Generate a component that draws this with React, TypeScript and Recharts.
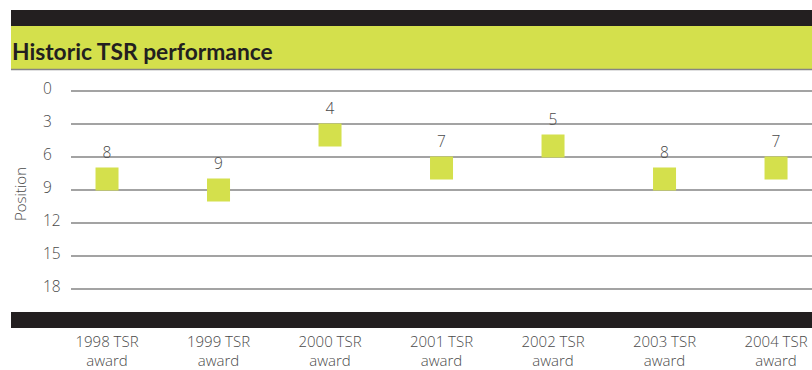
import React from 'react';
import { LineChart, Line, XAxis, YAxis, CartesianGrid, LabelList } from 'recharts';

const categories = [
  '1998 TSR award',
  '1999 TSR award',
  '2000 TSR award',
  '2001 TSR award',
  '2002 TSR award',
  '2003 TSR award',
  '2004 TSR award',
];
const positions = [8, 9, 4, 7, 5, 8, 7];
const yTicks = [0, 3, 6, 9, 12, 15, 18];
const xTicks = categories.map((_, i) => i);

const data = categories.map((name, i) => ({ idx: i, name, position: positions[i] }));

const LIME = '#d4e04c';
const DARK = '#231f20';
const GRID = '#858585';
const TEXT = '#4a4a4a';
const FONT = '"Open Sans", sans-serif';

const Square = (props: any) => {
  const { cx, cy, index } = props;
  if (cx == null || cy == null) return null;
  return <rect key={index} x={cx - 11.5} y={cy - 11.5} width={23} height={23} fill={LIME} />;
};

const YTick = (props: any) => {
  const { y, payload } = props;
  return (
    <text x={43} y={y + 2.5} fill={TEXT} fontSize={15.5} fontWeight={300} fontFamily={FONT}>
      {payload.value}
    </text>
  );
};

const XTick = (props: any) => {
  const { x, payload } = props;
  const label = categories[payload.value] || '';
  const cut = label.lastIndexOf(' ');
  return (
    <g>
      <text x={x} y={347} textAnchor="middle" fill={TEXT} fontSize={15} fontWeight={300} fontFamily={FONT}>
        {label.slice(0, cut)}
      </text>
      <text x={x} y={366} textAnchor="middle" fill={TEXT} fontSize={15} fontWeight={300} fontFamily={FONT}>
        {label.slice(cut + 1)}
      </text>
    </g>
  );
};

const ValueLabel = (props: any) => {
  const { x, y, value } = props;
  return (
    <text x={x} y={y - 21.5} textAnchor="middle" fill={TEXT} fontSize={15.5} fontWeight={300} fontFamily={FONT}>
      {value}
    </text>
  );
};

export default function App() {
  return (
    <div style={{ position: 'fixed', left: 0, top: 0, width: 812, height: 370, overflow: 'hidden', background: '#fff' }}>
      <LineChart width={830} height={370} data={data} margin={{ top: 91, right: 0, bottom: 0, left: 0 }}>
        <CartesianGrid horizontal vertical={false} stroke={GRID} strokeWidth={1.6} />
        <XAxis
          type="number"
          dataKey="idx"
          domain={[-0.323, 6.484]}
          allowDataOverflow
          ticks={xTicks}
          interval={0}
          axisLine={false}
          tickLine={false}
          height={81}
          tick={<XTick />}
        />
        <YAxis
          reversed
          type="number"
          domain={[0, 18]}
          ticks={yTicks}
          interval={0}
          width={71}
          axisLine={false}
          tickLine={false}
          tick={<YTick />}
          label={{
            content: () => (
              <text
                x={26}
                y={194}
                transform="rotate(-90, 26, 194)"
                textAnchor="middle"
                fill={TEXT}
                fontSize={15}
                fontWeight={300}
                fontFamily={FONT}
              >
                Position
              </text>
            ),
          }}
        />
        <Line
          dataKey="position"
          stroke="none"
          dot={<Square />}
          activeDot={false}
          isAnimationActive={false}
        >
          <LabelList dataKey="position" content={<ValueLabel />} />
        </Line>
      </LineChart>
      <svg width={812} height={370} style={{ position: 'absolute', left: 0, top: 0, pointerEvents: 'none' }}>
        <rect x={11} y={10} width={801} height={16} fill={DARK} />
        <rect x={11} y={26} width={801} height={43} fill={LIME} />
        <line x1={11} x2={812} y1={69.5} y2={69.5} stroke={GRID} strokeWidth={1.5} />
        <text x={12} y={60} fill={DARK} fontSize={22.8} fontWeight={700} fontFamily="Lato, sans-serif">
          Historic TSR performance
        </text>
        <rect x={11} y={312} width={801} height={16} fill={DARK} />
      </svg>
    </div>
  );
}
